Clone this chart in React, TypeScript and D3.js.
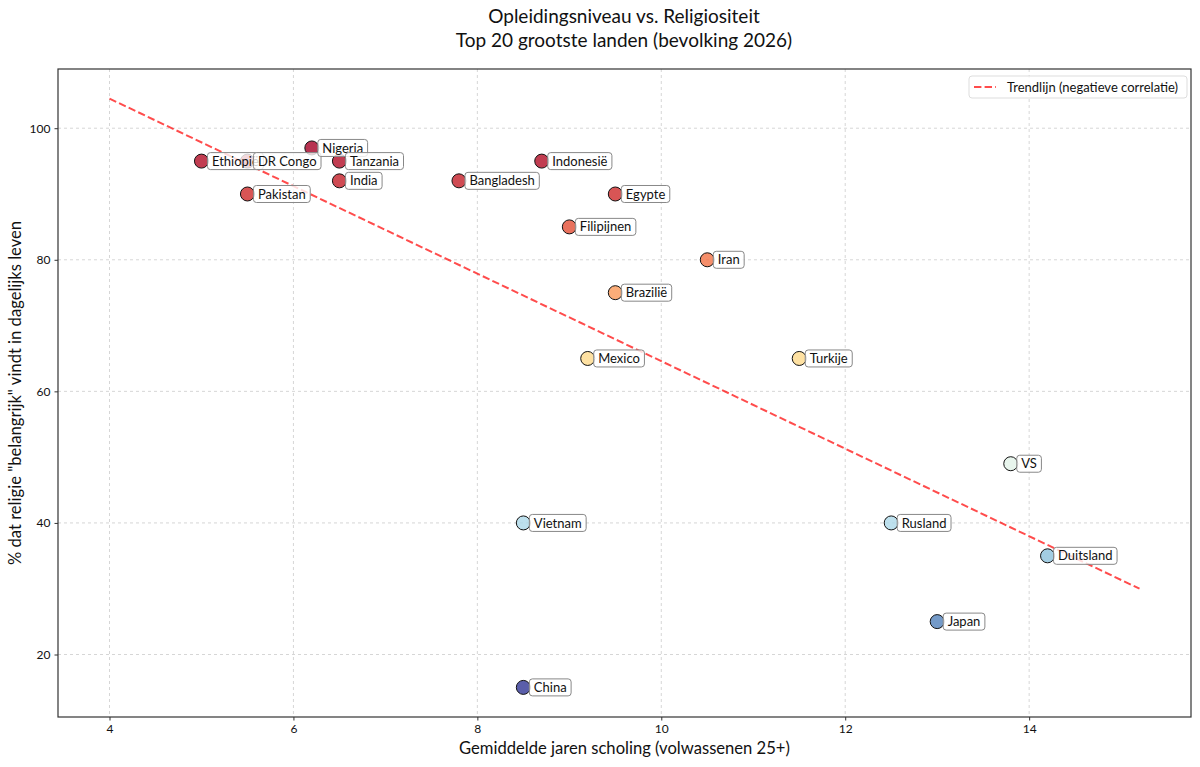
import { useEffect, useRef } from "react";
import * as d3 from "d3";

// landen: gemiddelde jaren scholing (25+) en % religie belangrijk
const countries = [
  "Ethiopië", "DR Congo", "Pakistan", "Nigeria", "Tanzania", "India", "Bangladesh",
  "Indonesië", "Egypte", "Filipijnen", "Iran", "Brazilië", "Mexico", "Turkije",
  "VS", "Vietnam", "Rusland", "Duitsland", "Japan", "China",
];
const schooling = [5.0, 5.5, 5.5, 6.2, 6.5, 6.5, 7.8, 8.7, 9.5, 9.0, 10.5, 9.5, 9.2, 11.5, 13.8, 8.5, 12.5, 14.2, 13.0, 8.5];
const religion = [95, 95, 90, 97, 95, 92, 92, 95, 90, 85, 80, 75, 65, 65, 49, 40, 40, 35, 25, 15];

// trendlijn eindpunten
const trendX = [4.0, 15.2];
const trendY = [104.5, 30.0];

const xTicks = [4, 6, 8, 10, 12, 14];
const yTicks = [20, 40, 60, 80, 100];

const FONT = "Lato, 'Noto Sans', sans-serif";

export default function App() {
  const svgRef = useRef<SVGSVGElement>(null);

  useEffect(() => {
    if (!svgRef.current) return;
    const svg = d3.select(svgRef.current);
    svg.selectAll("*").remove();

    const width = 1200, height = 767;
    const margin = { top: 69, right: 9, bottom: 50, left: 58 };
    const W = width - margin.left - margin.right;
    const H = height - margin.top - margin.bottom;

    const x = d3.scaleLinear().domain([3.44, 15.76]).range([0, W]);
    const y = d3.scaleLinear().domain([10.5, 109.0]).range([H, 0]);
    const color = (v: number) => d3.interpolateRdYlBu(1 - (v - 15) / (97 - 15));

    svg.attr("width", width).attr("height", height).attr("font-family", FONT);

    // titel
    svg.append("text").attr("x", 624).attr("y", 23).attr("text-anchor", "middle")
      .attr("font-size", 19).attr("fill", "#111").text("Opleidingsniveau vs. Religiositeit");
    svg.append("text").attr("x", 624).attr("y", 47).attr("text-anchor", "middle")
      .attr("font-size", 19).attr("fill", "#111").text("Top 20 grootste landen (bevolking 2026)");

    const g = svg.append("g").attr("transform", `translate(${margin.left},${margin.top})`);

    // grid
    g.selectAll(".vg").data(xTicks).enter().append("line")
      .attr("x1", d => x(d)).attr("x2", d => x(d)).attr("y1", 0).attr("y2", H)
      .attr("stroke", "#cccccc").attr("stroke-width", 0.8).attr("stroke-dasharray", "3,3");
    g.selectAll(".hg").data(yTicks).enter().append("line")
      .attr("x1", 0).attr("x2", W).attr("y1", d => y(d)).attr("y2", d => y(d))
      .attr("stroke", "#cccccc").attr("stroke-width", 0.8).attr("stroke-dasharray", "3,3");

    // trendlijn
    const trend = trendX.map((v, i) => [v, trendY[i]] as [number, number]);
    g.append("path").datum(trend)
      .attr("d", d3.line<[number, number]>().x(d => x(d[0])).y(d => y(d[1])))
      .attr("fill", "none").attr("stroke", "red").attr("stroke-opacity", 0.7)
      .attr("stroke-width", 2).attr("stroke-dasharray", "7.4,3.2");

    // punten
    const idx = d3.range(countries.length);
    g.selectAll(".pt").data(idx).enter().append("circle")
      .attr("cx", i => x(schooling[i])).attr("cy", i => y(religion[i])).attr("r", 7)
      .attr("fill", i => color(religion[i])).attr("fill-opacity", 0.8)
      .attr("stroke", "#111").attr("stroke-width", 1);

    // labels
    idx.forEach(i => {
      const cx = x(schooling[i]), cy = y(religion[i]);
      const lg = g.append("g");
      const rect = lg.append("rect");
      const t = lg.append("text").attr("x", cx + 10.5).attr("y", cy + 4.6)
        .attr("font-size", 13).attr("fill", "#111").text(countries[i]);
      const tw = (t.node() as SVGTextElement).getComputedTextLength();
      rect.attr("x", cx + 6).attr("y", cy - 8.5).attr("width", tw + 9).attr("height", 17)
        .attr("rx", 3).attr("fill", "white").attr("fill-opacity", 0.8)
        .attr("stroke", "#888").attr("stroke-width", 1);
    });

    // frame
    g.append("rect").attr("width", W).attr("height", H).attr("fill", "none")
      .attr("stroke", "#333").attr("stroke-width", 1.2);

    // assen
    const styleAxis = (ax: d3.Selection<SVGGElement, unknown, null, undefined>) => {
      ax.select(".domain").remove();
      ax.selectAll(".tick line").attr("stroke", "#333");
      ax.selectAll(".tick text").attr("fill", "#111").attr("font-size", 12).attr("font-family", FONT);
    };
    g.append("g").attr("transform", `translate(0,${H})`)
      .call(d3.axisBottom(x).tickValues(xTicks).tickSize(3.5).tickPadding(4))
      .call(styleAxis);
    g.append("g")
      .call(d3.axisLeft(y).tickValues(yTicks).tickSize(3.5).tickPadding(4))
      .call(styleAxis);

    g.append("text").attr("x", W / 2).attr("y", H + 37).attr("text-anchor", "middle")
      .attr("font-size", 16.6).attr("fill", "#111").text("Gemiddelde jaren scholing (volwassenen 25+)");
    g.append("text").attr("transform", `translate(${-37},${H / 2}) rotate(-90)`)
      .attr("text-anchor", "middle").attr("font-size", 16.6).attr("fill", "#111")
      .text("% dat religie \"belangrijk\" vindt in dagelijks leven");

    // legenda
    const lgW = 218;
    const leg = g.append("g").attr("transform", `translate(${W - lgW - 4},${7})`);
    leg.append("rect").attr("width", lgW).attr("height", 22).attr("rx", 3)
      .attr("fill", "white").attr("fill-opacity", 0.8).attr("stroke", "#ddd");
    leg.append("line").attr("x1", 5).attr("x2", 27).attr("y1", 11).attr("y2", 11)
      .attr("stroke", "red").attr("stroke-opacity", 0.7).attr("stroke-width", 2)
      .attr("stroke-dasharray", "7.4,3.2");
    leg.append("text").attr("x", 38).attr("y", 15.5).attr("font-size", 13).attr("fill", "#111")
      .text("Trendlijn (negatieve correlatie)");
  }, []);

  return <svg ref={svgRef} style={{ position: "absolute", left: 0, top: 0, display: "block" }} />;
}
